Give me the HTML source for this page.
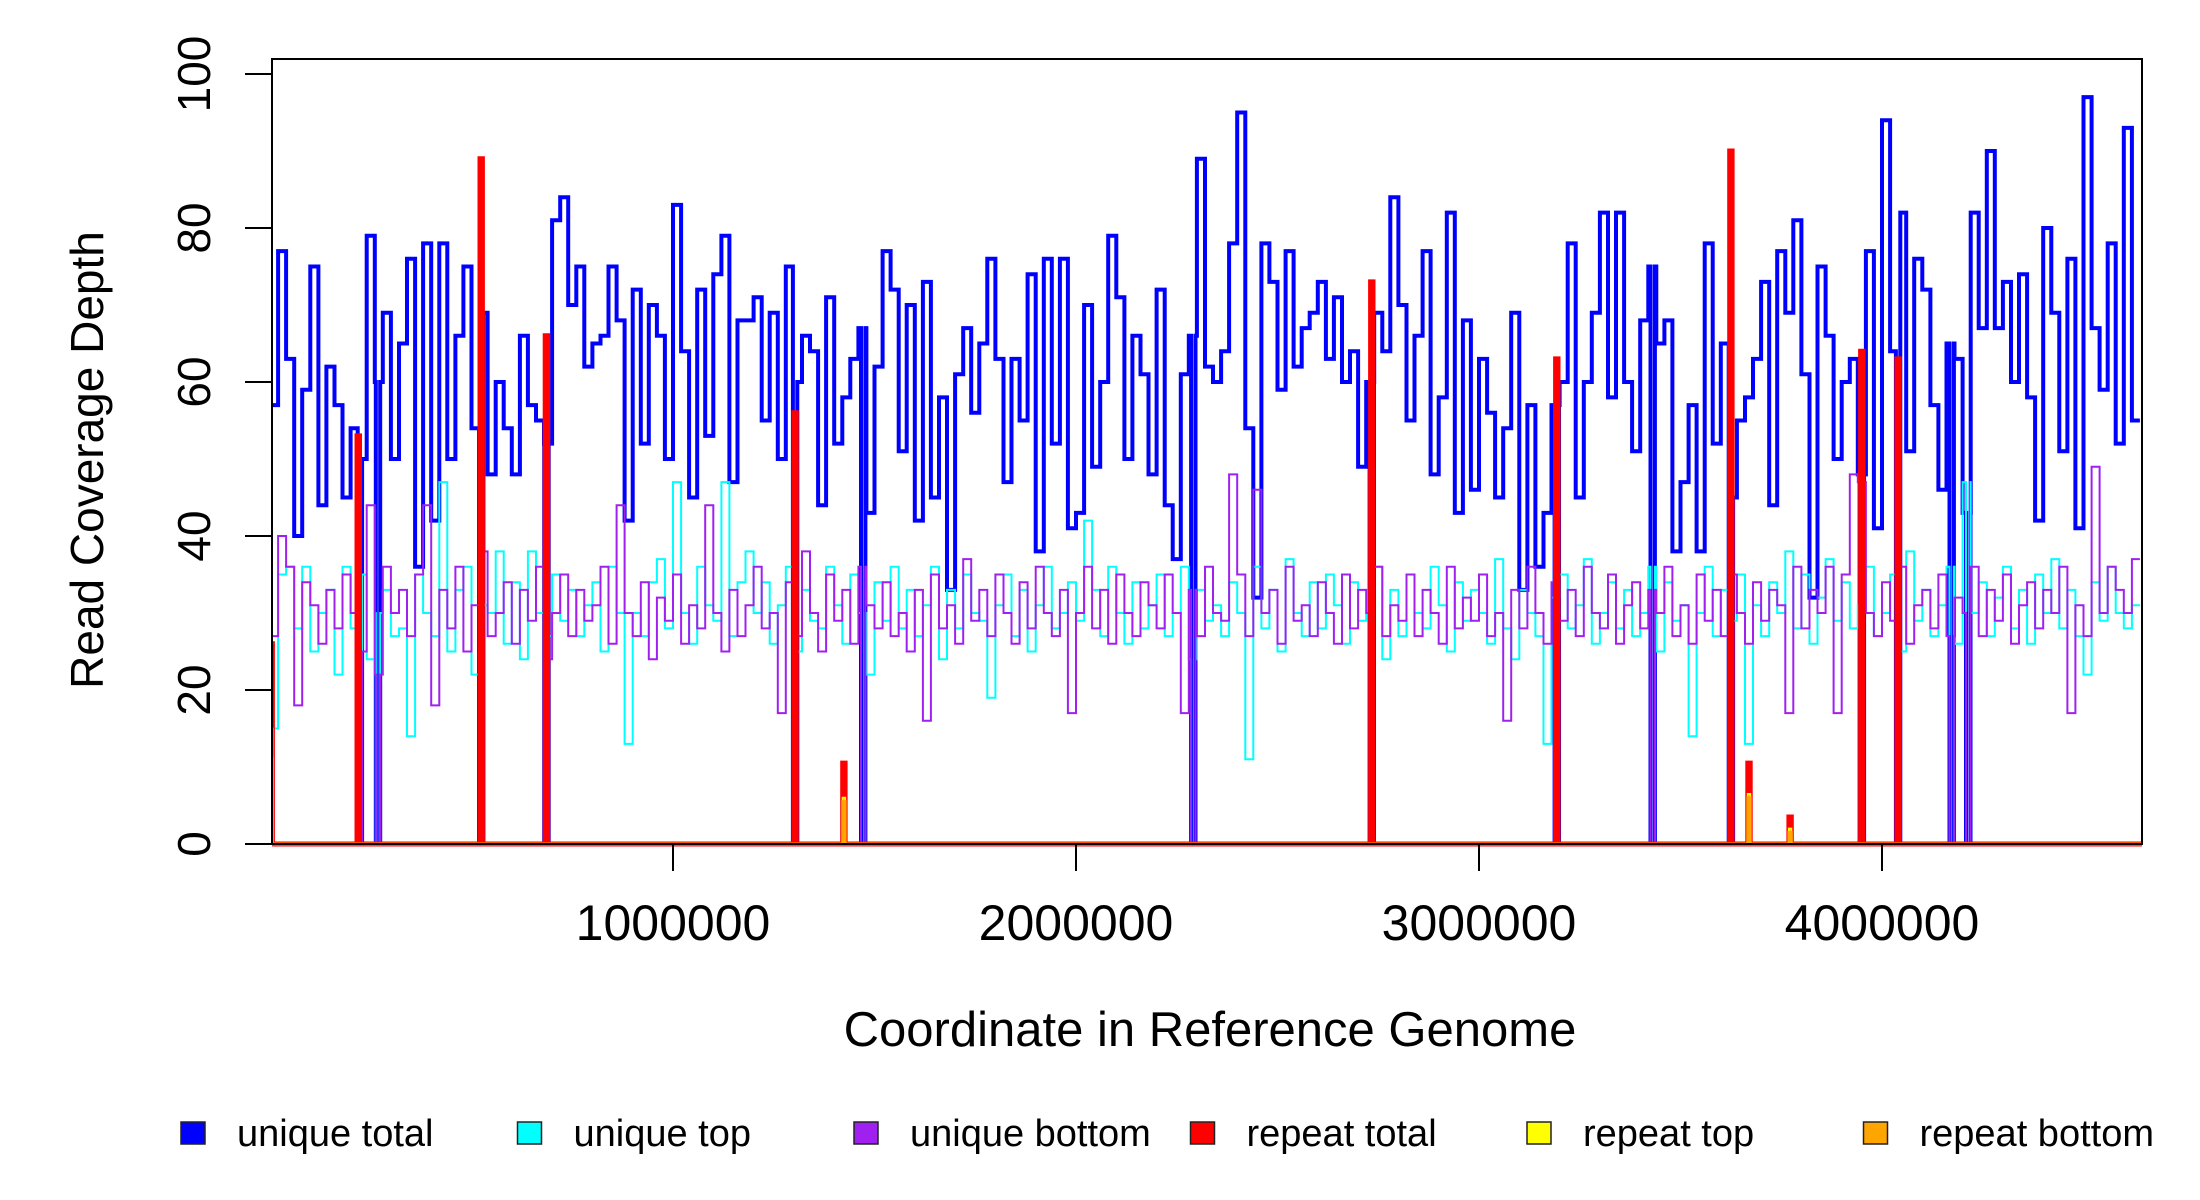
<!DOCTYPE html>
<html><head><meta charset="utf-8"><style>
html,body{margin:0;padding:0;background:#fff;}
svg{display:block;font-family:"Liberation Sans",sans-serif;}
</style></head><body>
<svg id="chart" width="2200" height="1200" viewBox="0 0 2200 1200" xmlns="http://www.w3.org/2000/svg">
<defs><clipPath id="plotclip"><rect x="272" y="50" width="1870" height="800"/></clipPath></defs>
<rect x="0" y="0" width="2200" height="1200" fill="#fff"/>
<g id="series" clip-path="url(#plotclip)"></g>
<rect x="272" y="59" width="1870" height="785" fill="none" stroke="#000" stroke-width="2"/>
<g id="axes"></g>
<text x="1210" y="1046" font-size="49" text-anchor="middle">Coordinate in Reference Genome</text>
<text transform="translate(103,460) rotate(-90)" font-size="46" text-anchor="middle">Read Coverage Depth</text>
<g id="legend"></g>
</svg>
<script>
const binSize = 20000;
const uniqueTotal = [57,77,63,40,59,75,44,62,57,45,54,50,79,60,69,50,65,76,36,78,42,78,50,66,75,54,69,48,60,54,48,66,57,55,52,81,84,70,75,62,65,66,75,68,42,72,52,70,66,50,83,64,45,72,53,74,79,47,68,
68,71,55,69,50,75,60,66,64,44,71,52,58,63,67,43,62,77,72,51,70,42,73,45,58,33,61,67,56,65,76,63,47,63,55,74,38,76,52,76,41,43,70,49,60,79,71,50,66,61,48,72,44,37,61,66,89,62,
60,64,78,95,54,32,78,73,59,77,62,67,69,73,63,71,60,64,49,60,69,64,84,70,55,66,77,48,58,82,43,68,46,63,56,45,54,69,33,57,36,43,57,60,78,45,60,69,82,58,82,60,51,68,75,65,68,38,
47,57,38,78,52,65,45,55,58,63,73,44,77,69,81,61,32,75,66,50,60,63,48,77,41,94,64,82,51,76,72,57,46,65,63,43,82,67,90,67,73,60,74,58,42,80,69,51,76,41,97,67,59,78,52,93,55];
const uniqueTop = [15,35,36,28,36,25,30,33,22,36,28,35,24,30,33,27,28,14,35,30,27,47,25,33,36,22,31,30,38,26,34,24,38,30,27,35,29,33,27,31,34,25,36,30,13,30,27,34,37,28,47,30,26,36,31,29,47,27,34,38,30,34,26,31,36,25,33,29,28,36,31,26,35,30,22,34,29,36,28,33,27,31,36,24,33,28,35,30,29,19,31,35,27,33,25,31,36,28,30,34,29,42,33,27,36,30,26,34,28,31,35,27,30,36,24,33,29,31,27,34,30,11,36,28,33,25,37,30,27,34,28,35,31,26,34,29,30,36,24,33,27,35,30,28,36,31,25,34,29,33,30,26,37,28,24,33,30,27,13,32,35,28,31,37,26,30,34,28,33,27,30,36,25,34,29,31,14,30,36,27,33,29,35,13,31,27,34,30,38,28,35,26,32,37,29,34,28,31,36,27,30,35,25,38,29,33,27,31,36,26,47,30,34,27,32,36,28,33,26,35,30,37,28,33,27,22,34,29,36,30,28,31];
const uniqueBottom = [27,40,36,18,34,31,26,33,28,35,30,25,44,22,36,30,33,27,35,44,18,33,28,36,25,31,38,27,30,34,26,33,29,36,24,30,35,27,33,29,31,36,26,44,30,27,34,24,32,29,35,26,31,28,44,30,25,33,27,31,36,28,30,17,34,27,38,30,25,35,29,33,26,36,31,28,34,27,30,25,33,16,35,28,31,26,37,29,33,27,35,30,26,34,28,36,30,27,33,17,30,36,28,33,26,35,30,27,34,31,28,35,30,17,33,27,36,30,29,48,35,27,46,30,33,26,36,29,31,27,34,30,26,35,28,33,30,36,27,31,29,35,27,33,30,26,36,28,32,29,35,27,30,16,33,28,36,30,26,34,29,33,27,36,30,28,35,26,31,34,28,33,30,36,27,31,26,35,29,33,27,35,30,26,34,29,33,31,17,36,28,33,30,36,17,35,48,47,30,27,34,29,36,26,31,33,28,35,27,32,30,36,27,33,29,35,26,31,34,28,33,30,36,17,31,27,49,30,36,33,30,37];
const gapPositions = [223000,268000,524000,686000,1303000,1472000,2291000,2734000,3193000,3431000,3625000,3950000,4040000,4173000,4214000];
const repeatPositions = [3000,219000,524000,686000,1303000,1424000,2734000,3193000,3625000,3670000,3772000,3950000,4040000];
const repeatTotal = [26,53,89,66,56,10.5,73,63,90,10.5,3.5,64,63];
const repeatTop = [15,0,0,0,0,6,0,0,0,6.5,2,0,0];
const repeatBottom = [11,0,0,0,0,5.5,0,0,0,6,1.5,0,0];
const xTicks = [1000000,2000000,3000000,4000000];
const yTicks = [0,20,40,60,80,100];
const legendLabels = ["unique total","unique top","unique bottom","repeat total","repeat top","repeat bottom"];
const legendColors = ["#0000ff","#00ffff","#a020f0","#ff0000","#ffff00","#ffa500"];

const NS = "http://www.w3.org/2000/svg";
const XORIG = 270, PX_PER_BP = 403 / 1000000, XMAX = 4645000, Y0 = 844, Y100 = 74;
const xs = v => XORIG + v * PX_PER_BP;
const ys = v => Y0 - v / 100 * (Y0 - Y100);
const GAPW = 11000, REPW = 6000;
const seriesG = document.getElementById('series');

function segmentsFor(values) {
  let segs = [];
  values.forEach((v, i) => segs.push([i * binSize, (i + 1) * binSize, v]));
  gapPositions.forEach(g => {
    const a = g - GAPW / 2, b = g + GAPW / 2;
    let out = [];
    segs.forEach(s => {
      if (s[1] <= a || s[0] >= b) { out.push(s); return; }
      if (s[0] < a) out.push([s[0], a, s[2]]);
      out.push([Math.max(s[0], a), Math.min(s[1], b), 0]);
      if (s[1] > b) out.push([b, s[1], s[2]]);
    });
    segs = out;
  });
  return segs;
}
function stepPath(segs) {
  let d = '';
  segs.forEach((s, i) => {
    const x0 = xs(s[0]).toFixed(1), x1 = xs(s[1]).toFixed(1), y = ys(s[2]).toFixed(1);
    d += (i === 0 ? 'M' + x0 + ',' + y : 'V' + y) + 'H' + x1;
  });
  return d;
}
function addPath(d, color, w, name) {
  const p = document.createElementNS(NS, 'path');
  p.setAttribute('d', d);
  p.setAttribute('fill', 'none');
  p.setAttribute('stroke', color);
  p.setAttribute('stroke-width', w);
  p.setAttribute('stroke-linejoin', 'miter');
  
  
  seriesG.appendChild(p);
}
function repeatPath(vals) {
  let d = 'M' + xs(0).toFixed(1) + ',' + ys(0).toFixed(1);
  repeatPositions.forEach((pos, i) => {
    const a = Math.max(0, pos - REPW / 2), b = pos + REPW / 2;
    d += 'H' + xs(a).toFixed(1) + 'V' + ys(vals[i]).toFixed(1) + 'H' + xs(b).toFixed(1) + 'V' + ys(0).toFixed(1);
  });
  d += 'H' + xs(XMAX).toFixed(1);
  return d;
}
addPath(stepPath(segmentsFor(uniqueTotal)), '#0000ff', 4, 'unique-total-line');
addPath(stepPath(segmentsFor(uniqueTop)), '#00ffff', 2, 'unique-top-line');
addPath(stepPath(segmentsFor(uniqueBottom)), '#a020f0', 2, 'unique-bottom-line');
addPath(repeatPath(repeatTotal), '#ff0000', 5, 'repeat-total-line');
addPath(repeatPath(repeatTop), '#ffff00', 2, 'repeat-top-line');
addPath(repeatPath(repeatBottom), '#ffa500', 3, 'repeat-bottom-line');

const axes = document.getElementById('axes');
function line(x1, y1, x2, y2, name) {
  const l = document.createElementNS(NS, 'line');
  l.setAttribute('x1', x1); l.setAttribute('y1', y1); l.setAttribute('x2', x2); l.setAttribute('y2', y2);
  l.setAttribute('stroke', '#000'); l.setAttribute('stroke-width', 2);
  
  
  axes.appendChild(l);
}
function text(str, x, y, size, anchor, transform, name) {
  const t = document.createElementNS(NS, 'text');
  t.textContent = str;
  t.setAttribute('x', x); t.setAttribute('y', y);
  t.setAttribute('font-size', size);
  t.setAttribute('text-anchor', anchor);
  if (transform) t.setAttribute('transform', transform);
  
  
  return t;
}
xTicks.forEach(v => {
  const x = xs(v);
  line(x, Y0, x, Y0 + 27, 'x-tick');
  axes.appendChild(text(String(v), x, 940, 50, 'middle', null, 'x-tick-label'));
});
yTicks.forEach(v => {
  const y = ys(v);
  line(245, y, 272, y, 'y-tick');
  axes.appendChild(text(String(v), 0, 0, 46, 'middle', 'translate(210,' + y.toFixed(1) + ') rotate(-90)', 'y-tick-label'));
});
line(272, ys(0), 272, ys(100), 'y-axis-line');

const legend = document.getElementById('legend');
legendLabels.forEach((lab, i) => {
  const bx = 181 + i * 336.5;
  const r = document.createElementNS(NS, 'rect');
  r.setAttribute('x', bx); r.setAttribute('y', 1122); r.setAttribute('width', 24); r.setAttribute('height', 22);
  r.setAttribute('fill', legendColors[i]); r.setAttribute('stroke', '#222'); r.setAttribute('stroke-width', 1.5);
  
  
  legend.appendChild(r);
  legend.appendChild(text(lab, bx + 56, 1146, 38, 'start', null, 'legend-entry'));
});
</script>
</body></html>
